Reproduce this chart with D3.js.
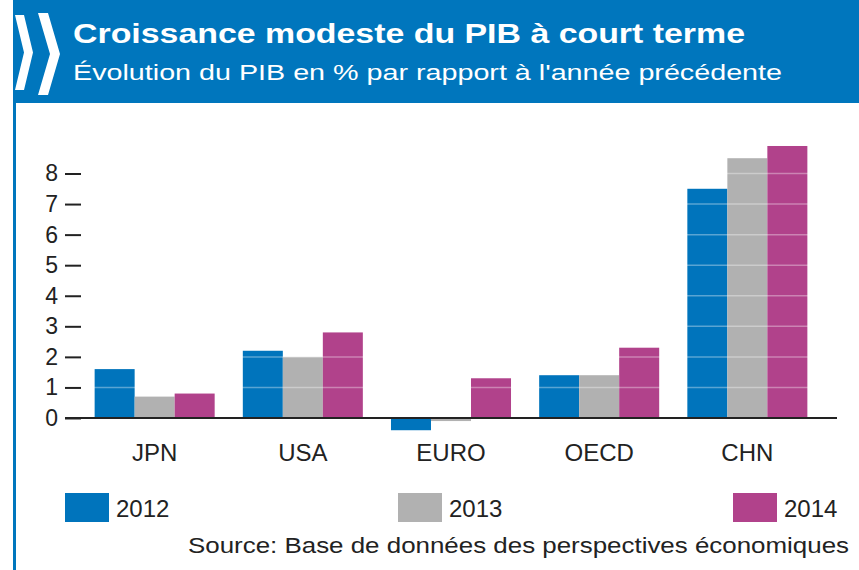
<!DOCTYPE html>
<html>
<head>
<meta charset="utf-8">
<script src="https://cdn.jsdelivr.net/npm/d3@7"></script>
<style>
  body { margin: 0; background: #fff; }
  text { font-family: "Liberation Sans", Arial, sans-serif; }
</style>
</head>
<body>
<div id="chart"></div>
<script>
// data
var countries = ["JPN", "USA", "EURO", "OECD", "CHN"];
var years = ["2012", "2013", "2014"];
var gdp2012 = [1.6, 2.2, -0.4, 1.4, 7.5];
var gdp2013 = [0.7, 2.0, -0.1, 1.4, 8.5];
var gdp2014 = [0.8, 2.8, 1.3, 2.3, 8.9];
var yTicks = [0, 1, 2, 3, 4, 5, 6, 7, 8];

var title = "Croissance modeste du PIB à court terme";
var subtitle = "Évolution du PIB en % par rapport à l'année précédente";
var source = "Source: Base de données des perspectives économiques";

var fullWidth = 859, fullHeight = 570;
var colors = ["#0074bc", "#b1b1b1", "#b1428b"];
var seriesValues = [gdp2012, gdp2013, gdp2014];

var svg = d3.select("#chart").append("svg")
    .attr("width", fullWidth)
    .attr("height", fullHeight);

// header band + left border
svg.append("rect")
    .attr("x", 13).attr("y", 0)
    .attr("width", fullWidth - 13).attr("height", 103)
    .style("fill", "#0076bd");
svg.append("rect")
    .attr("x", 13).attr("y", 0)
    .attr("width", 3).attr("height", fullHeight)
    .style("fill", "#0076bd");

// chevrons
function chevron(x0, top, bottom, w, t) {
  var mid = (top + bottom) / 2;
  return [[x0, top], [x0 + t, top], [x0 + w, mid], [x0 + t, bottom], [x0, bottom], [x0 + w - t, mid]];
}
svg.selectAll(".chev")
    .data([chevron(15, 15, 90, 18, 9), chevron(38, 13, 95, 22, 10)])
    .enter().append("polygon")
    .attr("class", "chev")
    .attr("points", function(d) { return d.join(" "); })
    .style("fill", "#fff");

svg.append("text")
    .attr("x", 73).attr("y", 43)
    .attr("textLength", 672).attr("lengthAdjust", "spacingAndGlyphs")
    .style("font-size", "28px").style("font-weight", "bold")
    .style("fill", "#fff")
    .text(title);
svg.append("text")
    .attr("x", 73).attr("y", 80)
    .attr("textLength", 709).attr("lengthAdjust", "spacingAndGlyphs")
    .style("font-size", "22px")
    .style("fill", "#fff")
    .text(subtitle);

// scales
var x = d3.scaleBand()
    .domain(countries)
    .range([65, 837])
    .paddingInner(0.19)
    .paddingOuter(0.2);

var x1 = d3.scaleBand()
    .domain(years)
    .range([0, x.bandwidth()]);

var y = d3.scaleLinear()
    .domain([0, 8])
    .range([418, 173.5]);

var color = d3.scaleOrdinal().domain(years).range(colors);

// bars
var rows = [];
countries.forEach(function(c, i) {
  years.forEach(function(yr, j) {
    rows.push({country: c, year: yr, value: seriesValues[j][i]});
  });
});

svg.append("g").selectAll("rect")
    .data(rows)
    .enter().append("rect")
    .attr("x", function(d) { return x(d.country) + x1(d.year); })
    .attr("y", function(d) { return y(Math.max(0, d.value)); })
    .attr("width", x1.bandwidth())
    .attr("height", function(d) { return Math.abs(y(d.value) - y(0)); })
    .style("fill", function(d) { return color(d.year); });

// faint white grid over the bars
svg.append("g").selectAll("line")
    .data(yTicks.filter(function(t) { return t > 0; }))
    .enter().append("line")
    .attr("x1", 81).attr("x2", 837)
    .attr("y1", function(d) { return y(d); })
    .attr("y2", function(d) { return y(d); })
    .style("stroke", "#fff")
    .style("stroke-opacity", 0.35)
    .style("stroke-width", 1.5);

// y axis
var yAxis = svg.append("g")
    .attr("transform", "translate(81,0)")
    .call(d3.axisLeft(y).tickValues(yTicks).tickSize(16).tickPadding(7).tickFormat(d3.format("d")));
yAxis.select(".domain").remove();
yAxis.selectAll(".tick line").style("stroke", "#222").style("stroke-width", 2);
yAxis.selectAll(".tick text")
    .style("font-size", "23px")
    .style("fill", "#222")
    .style("font-family", "Liberation Sans, Arial, sans-serif");

// baseline
svg.append("line")
    .attr("x1", 65).attr("x2", 837)
    .attr("y1", y(0)).attr("y2", y(0))
    .style("stroke", "#222")
    .style("stroke-width", 2);

// x axis labels
var xAxis = svg.append("g")
    .attr("transform", "translate(0," + y(0) + ")")
    .call(d3.axisBottom(x).tickSize(0).tickPadding(26));
xAxis.select(".domain").remove();
xAxis.selectAll(".tick text")
    .style("font-size", "24px")
    .style("fill", "#222")
    .style("font-family", "Liberation Sans, Arial, sans-serif");

// legend
var legendX = [65, 398, 733];
var legend = svg.selectAll(".legend")
    .data(years)
    .enter().append("g")
    .attr("class", "legend")
    .attr("transform", function(d, i) { return "translate(" + legendX[i] + ",493)"; });

legend.append("rect")
    .attr("width", 44)
    .attr("height", 29)
    .style("fill", color);

legend.append("text")
    .attr("x", 51)
    .attr("y", 24)
    .style("font-size", "24px")
    .style("fill", "#222")
    .text(function(d) { return d; });

svg.append("text")
    .attr("x", 188).attr("y", 553)
    .attr("textLength", 661).attr("lengthAdjust", "spacingAndGlyphs")
    .style("font-size", "22px")
    .style("fill", "#222")
    .text(source);
</script>
</body>
</html>
